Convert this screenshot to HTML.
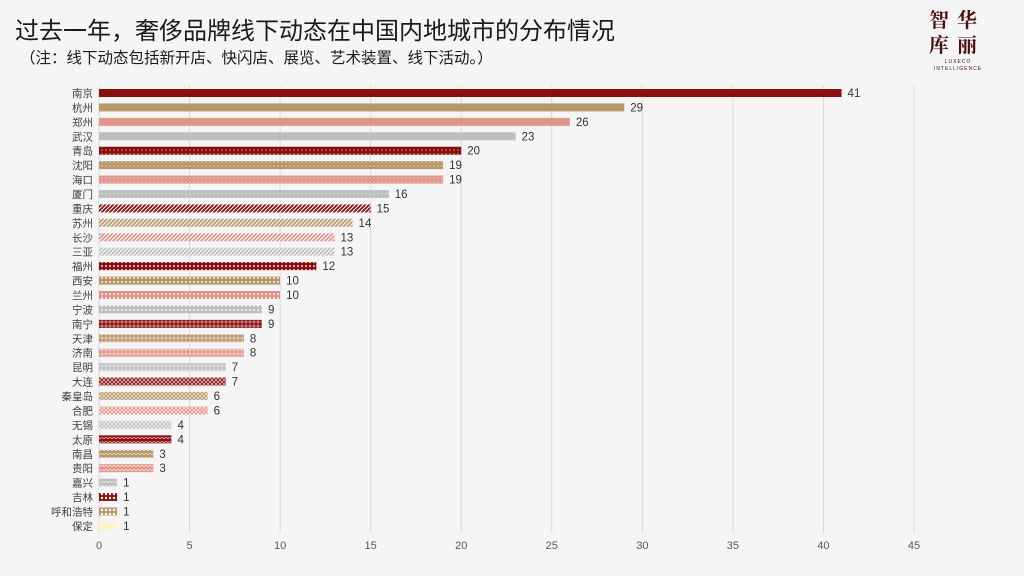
<!DOCTYPE html>
<html><head><meta charset="utf-8"><style>
body{margin:0;background:#f5f5f5;}
#w{position:relative;width:1024px;height:576px;overflow:hidden;background:#f5f5f5;font-family:"Liberation Sans","Noto Sans CJK SC",sans-serif;}
</style></head><body><div id="w">
<svg id="s" width="1024" height="576" xmlns="http://www.w3.org/2000/svg" style="position:absolute;left:0;top:0"></svg>
</div>
<script>
const names=["南京","杭州","郑州","武汉","青岛","沈阳","海口","厦门","重庆","苏州","长沙","三亚","福州","西安","兰州","宁波","南宁","天津","济南","昆明","大连","秦皇岛","合肥","无锡","太原","南昌","贵阳","嘉兴","吉林","呼和浩特","保定"];
const vals=[41,29,26,23,20,19,19,16,15,14,13,13,12,10,10,9,9,8,8,7,7,6,6,4,4,3,3,1,1,1,1];
const cols=["#8B0E0E","#B8976A","#E0958A","#BDBDBD"];
const F='font-family="Liberation Sans, Noto Sans CJK SC, sans-serif"';
let defs='<defs>';
const marks=[
 c=>'',
 c=>'<circle cx="2" cy="2" r="0.6" fill="#fff" opacity="0.8"/>',
 c=>'<path d="M0,4 L4,0 M-1,1 L1,-1 M3,5 L5,3" stroke="#fff" stroke-width="1.1"/>',
 c=>'<rect x="1" y="1" width="2" height="2" fill="#fff" opacity="0.6"/>',
 c=>'<path d="M0,2 L2,0 L4,2 L2,4 Z" fill="#fff" opacity="0.45"/>',
 c=>'<path d="M0,0 L2,2 L4,0 M0,4 L2,2 L4,4" stroke="#fff" stroke-width="0.8" fill="none" opacity="0.7"/>',
 c=>'<path d="M0,3 Q2,0 4,3" stroke="#fff" stroke-width="0.8" fill="none" opacity="0.7"/>',
 c=>'<circle cx="2" cy="2" r="1.2" fill="#fff"/>'
];
for(let i=0;i<31;i++){
 let c=i==30?"#FFF2CC":cols[i%4];
 let g=Math.min(Math.floor(i/4),7);
 if(i>=28)g=7;
 if(i==30)g=0;
 defs+=`<pattern id="p${i}" width="4" height="4" patternUnits="userSpaceOnUse"><rect width="4" height="4" fill="${c}"/>${marks[g](c)}</pattern>`;
}
defs+='</defs>';
let h=defs;
const x0=99,sc=(914-99)/45;
for(let k=0;k<=9;k++){let x=x0+k*5*sc;
 h+=`<line x1="${x}" y1="86" x2="${x}" y2="533" stroke="#d9d9d9" stroke-width="1"/>`;
 h+=`<text x="${x}" y="549" text-anchor="middle" font-size="11" fill="#595959" ${F}>${k*5}</text>`;}
for(let i=0;i<31;i++){let y=93+i*14.43;
 h+=`<text x="93" y="${y+4}" text-anchor="end" font-size="10.5" fill="#404040" ${F}>${names[i]}</text>`;
 let w=vals[i]*sc;
 h+=`<rect x="${x0}" y="${y-4}" width="${w}" height="8" fill="url(#p${i})"/>`;
 h+=`<text x="${x0+w+6}" y="${y+4}" font-size="11.5" fill="#333" ${F}>${vals[i]}</text>`;}
h+=`<text x="15" y="39" font-size="24" fill="#1a1a1a" ${F}>过去一年，奢侈品牌线下动态在中国内地城市的分布情况</text>`;
h+=`<text x="20" y="63" font-size="15.5" fill="#1a1a1a" ${F}>（注：线下动态包括新开店、快闪店、展览、艺术装置、线下活动。）</text>`;
h+=`<text x="957" y="27" text-anchor="middle" font-size="20" font-weight="bold" fill="#4a1010" letter-spacing="8" font-family="Noto Serif CJK SC, serif">智华</text>`;
h+=`<text x="957" y="52" text-anchor="middle" font-size="20" font-weight="bold" fill="#4a1010" letter-spacing="8" font-family="Noto Serif CJK SC, serif">库丽</text>`;
h+=`<text x="958" y="63" text-anchor="middle" font-size="5" fill="#4a1010" letter-spacing="1" ${F}>LUXECO</text>`;
h+=`<text x="958" y="70" text-anchor="middle" font-size="5" fill="#4a1010" letter-spacing="1" ${F}>INTELLIGENCE</text>`;
document.getElementById('s').innerHTML=h;
</script>
</body></html>
